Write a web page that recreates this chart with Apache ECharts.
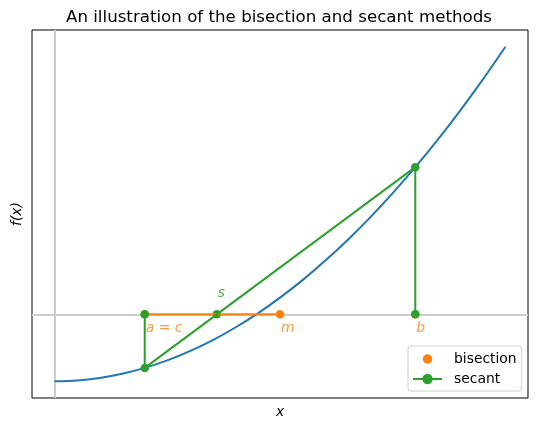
<!DOCTYPE html>
<html>
<head>
    <meta charset="utf-8">
    <script type="text/javascript" src="https://cdn.jsdelivr.net/npm/echarts@6/dist/echarts.min.js"></script>
    <style type="text/css">
        * {
            margin: 0;
            padding: 0;
        }
        #container {
            width: 537px;
            height: 429px;
        }
    </style>
</head>
<body>
<div id="container"></div>

<script type="text/javascript">

    //曲线 f(x) 的取样点
    var curveX = [0, 0.25, 0.5, 0.75, 1, 1.25, 1.5, 1.75, 2, 2.25, 2.5, 2.75, 3, 3.25, 3.5, 3.75, 4, 4.25, 4.5, 4.75, 5];
    var curveY = [-5, -4.94, -4.75, -4.44, -4, -3.44, -2.75, -1.94, -1, 0.06, 1.25, 2.56, 4, 5.56, 7.25, 9.06, 11, 13.06, 15.25, 17.56, 20];

    //二分法的点 a, b, m
    var bisectX = [1, 4, 2.5];
    var bisectY = [0, 0, 0];

    //割线法的路径和根 s
    var secantX = [1, 1, 4, 4];
    var secantY = [0, -4, 11, 0];
    var secantRootX = [1.8];
    var secantRootY = [0];

    //标注
    var noteTexts = ['a = c', 'm', 'b', 's'];
    var noteX = [1, 2.5, 4, 1.8];
    var noteY = [0, 0, 0, 0];
    var noteAbove = [false, false, false, true];

    var blue = '#1f77b4';
    var orange = '#ff7f0e';
    var green = '#2ca02c';
    var fontName = 'DejaVu Sans';

    //图例里的小圆点(四周留空，使点比图例框小)
    var dotIcon = 'path://M0,0M20,20M10,2.7A7.3,7.3,0,1,1,10,17.3A7.3,7.3,0,1,1,10,2.7Z';

    function pairs(xs, ys) {
        var out = [];
        for (var i = 0; i < xs.length; i++) {
            out.push([xs[i], ys[i]]);
        }
        return out;
    }

    var notes = [];
    for (var i = 0; i < noteTexts.length; i++) {
        notes.push({
            value: [noteX[i], noteY[i]],
            name: noteTexts[i],
            label: {
                color: noteAbove[i] ? green : orange,
                position: noteAbove[i] ? [1, -21] : [1, 14]
            }
        });
    }

    var myChart = echarts.init(document.getElementById('container'));
    var option = {
        animation: false,
        backgroundColor: '#ffffff',
        title: {//标题按绘图区居中
            text: 'An illustration of the bisection and secant methods',
            left: 61,
            top: 4,
            textStyle: {
                fontFamily: fontName,
                fontSize: 16.67,
                fontWeight: 'normal',
                color: '#000'
            }
        },
        legend: {
            data: [
                {name: 'bisection', icon: dotIcon},
                {name: 'secant'}
            ],
            orient: 'vertical',
            left: 408,
            top: 346,
            itemWidth: 29,
            itemHeight: 13,
            itemGap: 6,
            padding: [6, 5, 5, 4],
            backgroundColor: 'rgba(255,255,255,0.8)',
            borderColor: '#cccccc',
            borderWidth: 1,
            borderRadius: 3,
            textStyle: {
                fontFamily: fontName,
                fontSize: 13.89,
                color: '#000',
                padding: [0, 0, 0, 7]
            }
        },
        grid: {
            left: 32,
            right: 9,
            top: 30,
            bottom: 31,
            show: true,
            borderColor: '#000',
            borderWidth: 1
        },
        xAxis: {
            type: 'value',
            min: -0.25,
            max: 5.25,
            name: 'x',
            nameLocation: 'middle',
            nameGap: 7,
            nameTextStyle: {
                fontFamily: fontName,
                fontStyle: 'italic',
                fontSize: 13.89,
                color: '#000'
            },
            axisLine: {show: false},
            axisTick: {show: false},
            axisLabel: {show: false},
            splitLine: {show: false}
        },
        yAxis: {
            type: 'value',
            min: -6.25,
            max: 21.25,
            name: 'f(x)',
            nameLocation: 'middle',
            nameGap: 8,
            nameTextStyle: {
                fontFamily: fontName,
                fontStyle: 'italic',
                fontSize: 13.89,
                color: '#000'
            },
            axisLine: {show: false},
            axisTick: {show: false},
            axisLabel: {show: false},
            splitLine: {show: false}
        },
        series: [
            {
                name: 'f',
                type: 'line',
                smooth: 0.3,
                showSymbol: false,
                silent: true,
                lineStyle: {color: blue, width: 2},
                data: pairs(curveX, curveY),
                markLine: {//x=0 和 y=0 的灰线
                    silent: true,
                    symbol: 'none',
                    z: 1,
                    label: {show: false},
                    lineStyle: {color: '#cccccc', width: 2, type: 'solid'},
                    data: [{xAxis: 0}, {yAxis: 0}]
                }
            },
            {
                name: 'bisection-line',
                type: 'line',
                showSymbol: false,
                silent: true,
                lineStyle: {color: orange, width: 2},
                data: [[bisectX[0], bisectY[0]], [bisectX[2], bisectY[2]]]
            },
            {
                name: 'bisection',
                type: 'scatter',
                symbol: 'circle',
                symbolSize: 8.5,
                itemStyle: {color: orange, opacity: 1},
                data: pairs(bisectX, bisectY)
            },
            {
                name: 'secant',
                type: 'line',
                symbol: 'circle',
                symbolSize: 8.5,
                showAllSymbol: true,
                color: green,
                lineStyle: {color: green, width: 2},
                itemStyle: {color: green, borderWidth: 0},
                data: pairs(secantX, secantY)
            },
            {
                name: 'secant',
                type: 'scatter',
                symbol: 'circle',
                symbolSize: 8.5,
                itemStyle: {color: green, opacity: 1},
                data: pairs(secantRootX, secantRootY)
            },
            {
                name: 'notes',
                type: 'scatter',
                symbolSize: 0,
                silent: true,
                z: 5,
                label: {
                    show: true,
                    formatter: function (p) {
                        return p.name;
                    },
                    align: 'left',
                    verticalAlign: 'middle',
                    fontFamily: fontName,
                    fontStyle: 'italic',
                    fontSize: 13.89
                },
                data: notes
            }
        ]
    };
    myChart.setOption(option);

</script>
</body>
</html>
